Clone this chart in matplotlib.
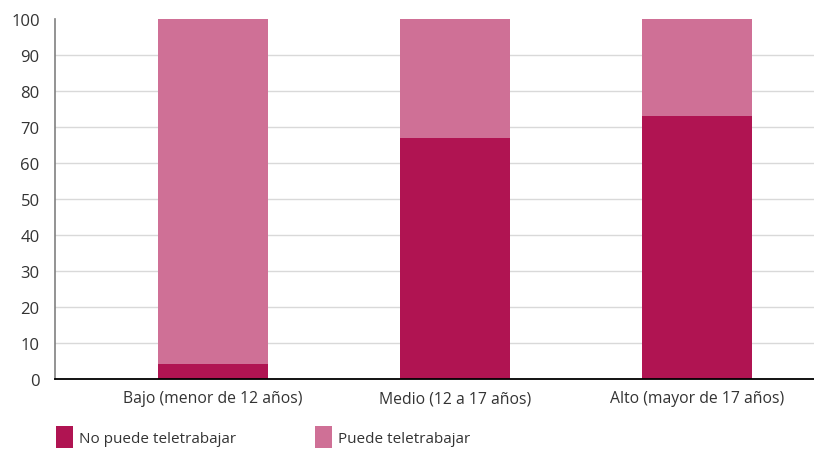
import matplotlib
matplotlib.use("Agg")
import matplotlib.pyplot as plt
from matplotlib.patches import Patch

plt.rcParams['font.family'] = ['Open Sans', 'DejaVu Sans']

categories = ["Bajo (menor de 12 años)", "Medio (12 a 17 años)", "Alto (mayor de 17 años)"]
no_puede = [4.2, 67.0, 73.0]
puede = [95.8, 33.0, 27.0]
series_names = ["No puede teletrabajar", "Puede teletrabajar"]
yticks = [0, 10, 20, 30, 40, 50, 60, 70, 80, 90, 100]

dark = "#B01452"
light = "#CF7096"

fig = plt.figure(figsize=(8.14, 4.52), dpi=100)
ax = fig.add_axes([55 / 814, 1 - 380 / 452, 1 - 55 / 814, 360 / 452])

x = list(range(len(categories)))
width = 0.455
ax.bar(x, no_puede, width, color=dark, zorder=3)
ax.bar(x, puede, width, bottom=no_puede, color=light, zorder=3)

ax.set_xlim(-0.653, 2.483)
ax.set_ylim(0, 100)
ax.set_yticks(yticks)
ax.set_yticklabels([str(v) for v in yticks], fontsize=12, color="#333333")
ax.set_xticks(x)
ax.set_xticklabels(categories, fontsize=11.3, color="#333333")
ax.tick_params(axis="y", length=0, pad=11)
ax.tick_params(axis="x", length=0, pad=8)

ax.yaxis.grid(True, color="#D9D9D9", linewidth=1, zorder=0)
ax.get_ygridlines()[-1].set_visible(False)
ax.set_axisbelow(True)

for side in ("top", "right"):
    ax.spines[side].set_visible(False)
ax.spines["left"].set_color("#808080")
ax.spines["left"].set_linewidth(1.2)
ax.spines["bottom"].set_color("#000000")
ax.spines["bottom"].set_linewidth(1.3)
ax.spines["bottom"].set_zorder(4)

handles = [Patch(facecolor=dark, edgecolor="none"), Patch(facecolor=light, edgecolor="none")]
fig.legend(handles, series_names, loc="center left", bbox_to_anchor=(56 / 814, 1 - 438 / 452),
           ncol=2, frameon=False, fontsize=11, handlelength=1.1, handleheight=1.85,
           handletextpad=0.4, columnspacing=5.2, borderpad=0, borderaxespad=0,
           labelcolor="#333333")

fig.savefig("out.png", dpi=100)
